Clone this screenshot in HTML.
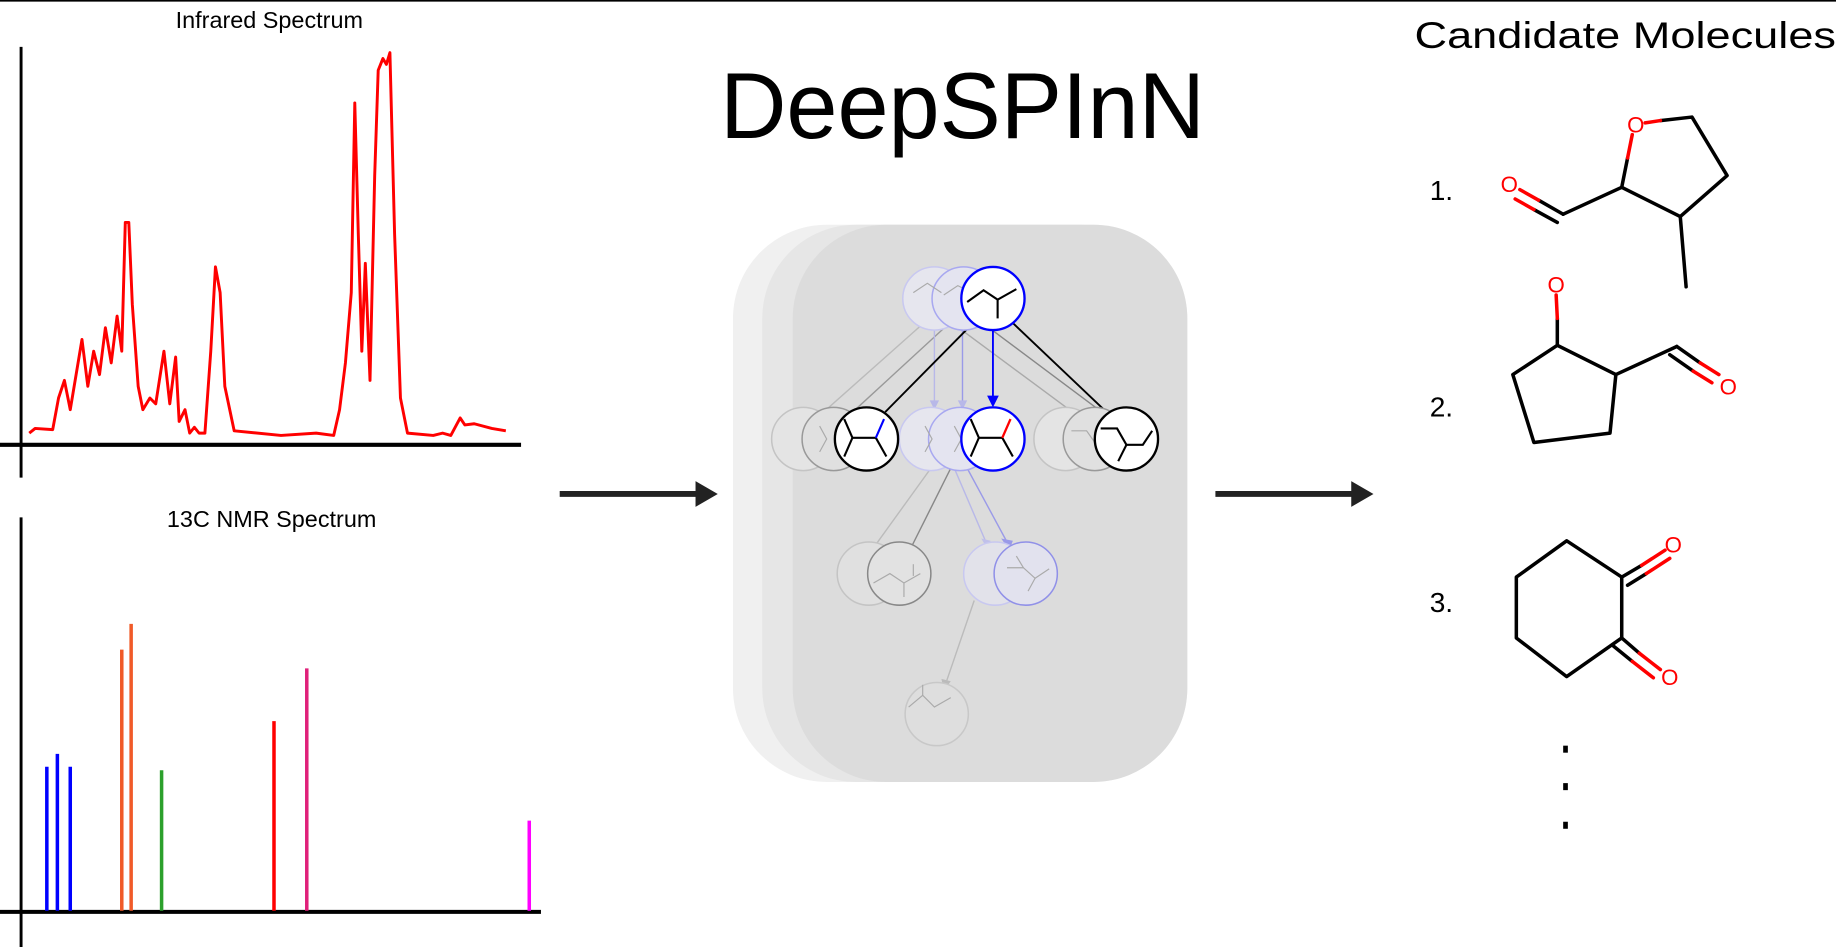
<!DOCTYPE html>
<html><head><meta charset="utf-8"><style>
html,body{margin:0;padding:0;background:#fff;}
svg{display:block;}
text{font-family:"Liberation Sans",Arial,sans-serif;}
</style></head><body>
<svg width="1836" height="947" viewBox="0 0 1568 809" preserveAspectRatio="none" xmlns="http://www.w3.org/2000/svg">
<rect width="1568" height="809" fill="#fff"/>
<line x1="0" y1="0.6" x2="1568" y2="0.6" stroke="#000" stroke-width="1.5"/>

<!-- IR -->
<text x="230" y="24" font-size="20" text-anchor="middle">Infrared Spectrum</text>
<line x1="18" y1="40" x2="18" y2="408" stroke="#000" stroke-width="2.5"/>
<line x1="0" y1="380" x2="445" y2="380" stroke="#000" stroke-width="3.5"/>
<polyline fill="none" stroke="#f00" stroke-width="2.5" stroke-linejoin="round" points="25,370 30,366 45,367 50,340 55,325 60,350 65,320 70,290 75,330 80,300 85,320 90,280 95,310 100,270 104,300 107,190 110,190 113,260 118,330 122,350 128,340 133,345 140,300 145,345 150,305 153,360 158,350 162,370 166,365 170,370 175,370 180,300 184,228 188,250 192,330 200,368 240,372 270,370 285,372 290,350 295,310 300,250 303,88 306,200 309,300 312,225 316,325 320,150 323,60 327,50 330,55 333,45 337,200 342,340 348,370 370,372 378,370 385,372 393,357 397,363 405,362 420,366 432,368"/>

<!-- NMR -->
<text x="232" y="450" font-size="20" text-anchor="middle">13C NMR Spectrum</text>
<line x1="18" y1="442" x2="18" y2="809" stroke="#000" stroke-width="2.5"/>
<line x1="0" y1="779" x2="462" y2="779" stroke="#000" stroke-width="3.5"/>
<g stroke-width="3">
<line x1="40" y1="655" x2="40" y2="778" stroke="#00f"/>
<line x1="49" y1="644" x2="49" y2="778" stroke="#00f"/>
<line x1="60" y1="655" x2="60" y2="778" stroke="#00f"/>
<line x1="104" y1="555" x2="104" y2="778" stroke="#f05a28"/>
<line x1="112" y1="533" x2="112" y2="778" stroke="#f05a28"/>
<line x1="138" y1="658" x2="138" y2="778" stroke="#2ca02c"/>
<line x1="234" y1="616" x2="234" y2="778" stroke="#f00"/>
<line x1="262" y1="571" x2="262" y2="778" stroke="#e0207a"/>
<line x1="452" y1="701" x2="452" y2="778" stroke="#f0f"/>
</g>

<!-- arrows -->
<line x1="478" y1="422" x2="596" y2="422" stroke="#222" stroke-width="5"/>
<polygon points="594,411 613,422 594,433" fill="#222"/>
<line x1="1038" y1="422" x2="1156" y2="422" stroke="#222" stroke-width="5"/>
<polygon points="1154,411 1173,422 1154,433" fill="#222"/>

<text x="822" y="118" font-size="80" text-anchor="middle" textLength="414" lengthAdjust="spacingAndGlyphs">DeepSPInN</text>

<!-- panel -->
<rect x="626" y="192" width="388" height="476" rx="80" fill="#f0f0f0"/>
<rect x="651" y="192" width="350" height="476" rx="80" fill="#e6e6e6"/>
<rect x="677" y="192" width="337" height="476" rx="80" fill="#dcdcdc"/>

<!-- ghost edges -->
<g stroke-width="1.2" fill="none">
<line x1="790" y1="275" x2="700" y2="355" stroke="#bbb"/>
<line x1="812" y1="275" x2="725" y2="355" stroke="#999"/>
<line x1="812" y1="275" x2="920" y2="355" stroke="#aaa"/>
<line x1="838" y1="275" x2="945" y2="355" stroke="#888"/>
<line x1="798" y1="282" x2="798" y2="345" stroke="#b8b8e8"/>
<line x1="822" y1="282" x2="822" y2="345" stroke="#9a9ae8"/>
<line x1="795" y1="400" x2="746" y2="468" stroke="#bbb"/>
<line x1="812" y1="400" x2="778" y2="468" stroke="#888"/>
<line x1="815" y1="400" x2="842" y2="463" stroke="#b8b8e8"/>
<line x1="826" y1="400" x2="860" y2="463" stroke="#9a9ae8"/>
<line x1="832" y1="513" x2="808" y2="583" stroke="#bbb"/>
</g>
<g fill="#b8b8e8"><polygon points="794,342 802,342 798,350"/><polygon points="818,342 826,342 822,350"/></g>
<polygon points="855,460 865,462 862,470" fill="#9a9ae8"/>
<polygon points="838,460 846,462 844,470" fill="#c0c0ea"/>
<polygon points="804,580 812,582 806,590" fill="#bbb"/>
<!-- main edges -->
<line x1="832" y1="275" x2="756" y2="352" stroke="#000" stroke-width="1.6"/>
<line x1="864" y1="275" x2="945" y2="352" stroke="#000" stroke-width="1.6"/>
<line x1="848" y1="282" x2="848" y2="340" stroke="#00f" stroke-width="1.6"/>
<polygon points="843,338 853,338 848,348" fill="#00f"/>

<!-- ghost nodes -->
<g stroke-width="1.3">
<circle cx="798" cy="255" r="27" fill="#e6e6ee" stroke="#c8c8f0"/>
<circle cx="823" cy="255" r="27" fill="#e4e4f0" stroke="#a8a8f0"/>
<circle cx="686" cy="375" r="27" fill="#e4e4e4" stroke="#c4c4c4"/>
<circle cx="712" cy="375" r="27" fill="#e0e0e0" stroke="#999"/>
<circle cx="795" cy="375" r="27" fill="#e6e6ee" stroke="#c8c8f0"/>
<circle cx="820" cy="375" r="27" fill="#e4e4f0" stroke="#a8a8f0"/>
<circle cx="910" cy="375" r="27" fill="#e4e4e4" stroke="#c4c4c4"/>
<circle cx="935" cy="375" r="27" fill="#e0e0e0" stroke="#999"/>
<circle cx="742" cy="490" r="27" fill="#e0e0e0" stroke="#c4c4c4"/>
<circle cx="768" cy="490" r="27" fill="#e2e2e2" stroke="#888"/>
<circle cx="850" cy="490" r="27" fill="#e2e2ea" stroke="#c8c8f0"/>
<circle cx="876" cy="490" r="27" fill="#e2e2ee" stroke="#9090e8"/>
<circle cx="800" cy="610" r="27" fill="#dedede" stroke="#c8c8c8"/>
</g>
<g stroke="#aaa" stroke-width="1" fill="none">
<polyline points="776,604 788,594 798,604 812,596"/><line x1="788" y1="594" x2="788" y2="585"/>
<polyline points="746,498 760,490 772,498 786,490"/><line x1="772" y1="498" x2="772" y2="510"/><line x1="780" y1="482" x2="780" y2="492"/>
<polyline points="860,485 874,485 884,494 896,486"/><line x1="874" y1="485" x2="868" y2="475"/><line x1="884" y1="494" x2="878" y2="505"/>
<polyline points="700,364 706,375 700,386"/><polyline points="790,364 796,375 790,386"/><polyline points="815,364 821,375 815,386"/>
<polyline points="915,368 928,368 935,378 948,378"/>
<polyline points="780,250 792,242 804,250"/><polyline points="806,252 818,244 830,250"/>
</g>
<!-- main nodes -->
<circle cx="848" cy="255" r="27" fill="#fff" stroke="#00f" stroke-width="2"/>
<polyline points="826,258 840,248 852,256 868,247" fill="none" stroke="#000" stroke-width="1.8"/>
<line x1="852" y1="256" x2="852" y2="272" stroke="#000" stroke-width="1.8"/>
<circle cx="740" cy="375" r="27" fill="#fff" stroke="#000" stroke-width="2"/>
<polyline points="721,358 728,374 721,390" fill="none" stroke="#000" stroke-width="1.8"/>
<line x1="728" y1="374" x2="748" y2="374" stroke="#000" stroke-width="1.8"/>
<line x1="748" y1="374" x2="757" y2="390" stroke="#000" stroke-width="1.8"/>
<line x1="748" y1="374" x2="755" y2="358" stroke="#00f" stroke-width="1.8"/>
<circle cx="848" cy="375" r="27" fill="#fff" stroke="#00f" stroke-width="2"/>
<polyline points="829,358 836,374 829,390" fill="none" stroke="#000" stroke-width="1.8"/>
<line x1="836" y1="374" x2="856" y2="374" stroke="#000" stroke-width="1.8"/>
<line x1="856" y1="374" x2="865" y2="390" stroke="#000" stroke-width="1.8"/>
<line x1="856" y1="374" x2="863" y2="358" stroke="#f00" stroke-width="2"/>
<circle cx="962" cy="375" r="27" fill="#fff" stroke="#000" stroke-width="2"/>
<polyline points="940,366 954,366 962,380 976,380 984,368" fill="none" stroke="#000" stroke-width="1.8"/>
<line x1="962" y1="380" x2="955" y2="394" stroke="#000" stroke-width="1.8"/>

<!-- Candidates -->
<text x="1208" y="41" font-size="32" textLength="360" lengthAdjust="spacingAndGlyphs">Candidate Molecules</text>
<g font-size="24">
<text x="1221" y="171">1.</text>
<text x="1221" y="356">2.</text>
<text x="1221" y="523">3.</text>
</g>
<g fill="none" stroke-width="3" stroke-linejoin="round" stroke-linecap="round">
<polyline points="1385,160 1435,185 1475,150 1445,100 1418,103" stroke="#000"/>
<line x1="1418" y1="103" x2="1405" y2="105" stroke="#f00"/>
<line x1="1385" y1="160" x2="1390" y2="135" stroke="#000"/>
<line x1="1390" y1="135" x2="1394" y2="115" stroke="#f00"/>
<line x1="1385" y1="160" x2="1335" y2="183" stroke="#000"/>
<line x1="1335" y1="183" x2="1314" y2="171" stroke="#000"/>
<line x1="1314" y1="171" x2="1298" y2="162" stroke="#f00"/>
<line x1="1330" y1="190" x2="1310" y2="179" stroke="#000"/>
<line x1="1310" y1="179" x2="1294" y2="170" stroke="#f00"/>
<line x1="1435" y1="185" x2="1440" y2="245" stroke="#000"/>
<polygon points="1330,295 1380,320 1375,370 1310,378 1292,320" stroke="#000"/>
<line x1="1330" y1="295" x2="1330" y2="272" stroke="#000"/>
<line x1="1330" y1="272" x2="1329" y2="252" stroke="#f00"/>
<line x1="1380" y1="320" x2="1432" y2="296" stroke="#000"/>
<line x1="1432" y1="296" x2="1452" y2="310" stroke="#000"/>
<line x1="1452" y1="310" x2="1468" y2="320" stroke="#f00"/>
<line x1="1426" y1="303" x2="1446" y2="317" stroke="#000"/>
<line x1="1446" y1="317" x2="1462" y2="327" stroke="#f00"/>
<polygon points="1338,462 1385,493 1385,545 1338,578 1295,545 1295,493" stroke="#000"/>
<line x1="1385" y1="493" x2="1402" y2="483" stroke="#000"/>
<line x1="1402" y1="483" x2="1422" y2="470" stroke="#f00"/>
<line x1="1390" y1="500" x2="1406" y2="490" stroke="#000"/>
<line x1="1406" y1="490" x2="1426" y2="477" stroke="#f00"/>
<line x1="1385" y1="545" x2="1400" y2="558" stroke="#000"/>
<line x1="1400" y1="558" x2="1418" y2="572" stroke="#f00"/>
<line x1="1378" y1="552" x2="1394" y2="565" stroke="#000"/>
<line x1="1394" y1="565" x2="1412" y2="579" stroke="#f00"/>
</g>
<g font-size="19" fill="#f00" text-anchor="middle">
<text x="1397" y="113">O</text>
<text x="1289" y="164">O</text>
<text x="1329" y="250">O</text>
<text x="1476" y="337">O</text>
<text x="1429" y="472">O</text>
<text x="1426" y="585">O</text>
</g>
<g fill="#000">
<rect x="1335" y="637" width="4" height="6"/>
<rect x="1335" y="669" width="4" height="6"/>
<rect x="1335" y="702" width="4" height="6"/>
</g>
</svg>
</body></html>
